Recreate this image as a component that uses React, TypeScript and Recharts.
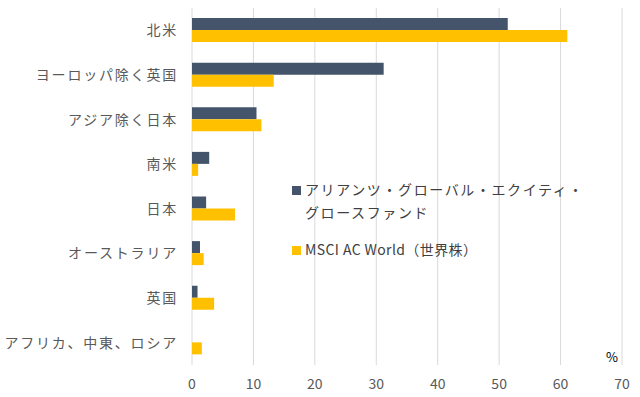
import { BarChart, Bar, XAxis, YAxis, CartesianGrid, Legend } from "recharts";

const regions = [
  "北米",
  "ヨーロッパ除く英国",
  "アジア除く日本",
  "南米",
  "日本",
  "オーストラリア",
  "英国",
  "アフリカ、中東、ロシア",
];
const fundValues = [51.4, 31.2, 10.5, 2.8, 2.3, 1.3, 0.9, 0];
const indexValues = [61.1, 13.3, 11.3, 1.0, 7.0, 1.9, 3.6, 1.6];
const xTicks = [0, 10, 20, 30, 40, 50, 60, 70];

const fundName = "アリアンツ・グローバル・エクイティ・グロースファンド";
const indexName = "MSCI AC World（世界株）";

const data = regions.map((r, i) => ({
  region: r,
  fund: fundValues[i],
  index: indexValues[i],
}));

const FONT = '"Noto Sans CJK JP", "Noto Sans", sans-serif';

function LegendBox() {
  const sq = (c: string) => (
    <span
      style={{
        display: "inline-block",
        width: 9,
        height: 9,
        background: c,
        marginRight: 4,
        verticalAlign: "middle",
        position: "relative",
        top: -1,
      }}
    />
  );
  return (
    <div
      style={{
        fontFamily: FONT,
        fontSize: 14,
        color: "#404040",
        letterSpacing: 1.6,
        lineHeight: "23px",
      }}
    >
      <div style={{ paddingLeft: 13, textIndent: -13 }}>
        {sq("#44546A")}
        アリアンツ・グローバル・エクイティ・
        <br />
        グロースファンド
      </div>
      <div style={{ marginTop: 14, letterSpacing: 0.4 }}>
        {sq("#FFC000")}
        {indexName}
      </div>
    </div>
  );
}

export default function App() {
  return (
    <div style={{ position: "absolute", left: 0, top: 0, width: 640, height: 397 }}>
      <BarChart
        width={640}
        height={397}
        data={data}
        layout="vertical"
        margin={{ top: 8, right: 18, bottom: 2, left: 0 }}
        barSize={12}
        barGap={0}
      >
        <CartesianGrid horizontal={false} stroke="#d9d9d9" />
        <XAxis
          type="number"
          domain={[0, 70]}
          ticks={xTicks}
          height={30}
          axisLine={false}
          tickLine={false}
          tickMargin={8}
          tick={{ fill: "#595959", fontSize: 14, fontFamily: FONT }}
        />
        <YAxis
          type="category"
          dataKey="region"
          width={192}
          axisLine={false}
          tickLine={false}
          tickMargin={8}
          tick={{ fill: "#595959", fontSize: 14, fontFamily: FONT, letterSpacing: 1.8 }}
        />
        <Legend
          layout="horizontal"
          verticalAlign="middle"
          align="center"
          wrapperStyle={{ left: 292, top: 178, width: 330 }}
          content={() => <LegendBox />}
        />
        <Bar dataKey="fund" name={fundName} fill="#44546A" isAnimationActive={false} />
        <Bar dataKey="index" name={indexName} fill="#FFC000" isAnimationActive={false} />
      </BarChart>
      <span
        style={{
          position: "absolute",
          left: 606,
          top: 347,
          fontFamily: FONT,
          fontSize: 13,
          color: "#000",
        }}
      >
        %
      </span>
    </div>
  );
}
